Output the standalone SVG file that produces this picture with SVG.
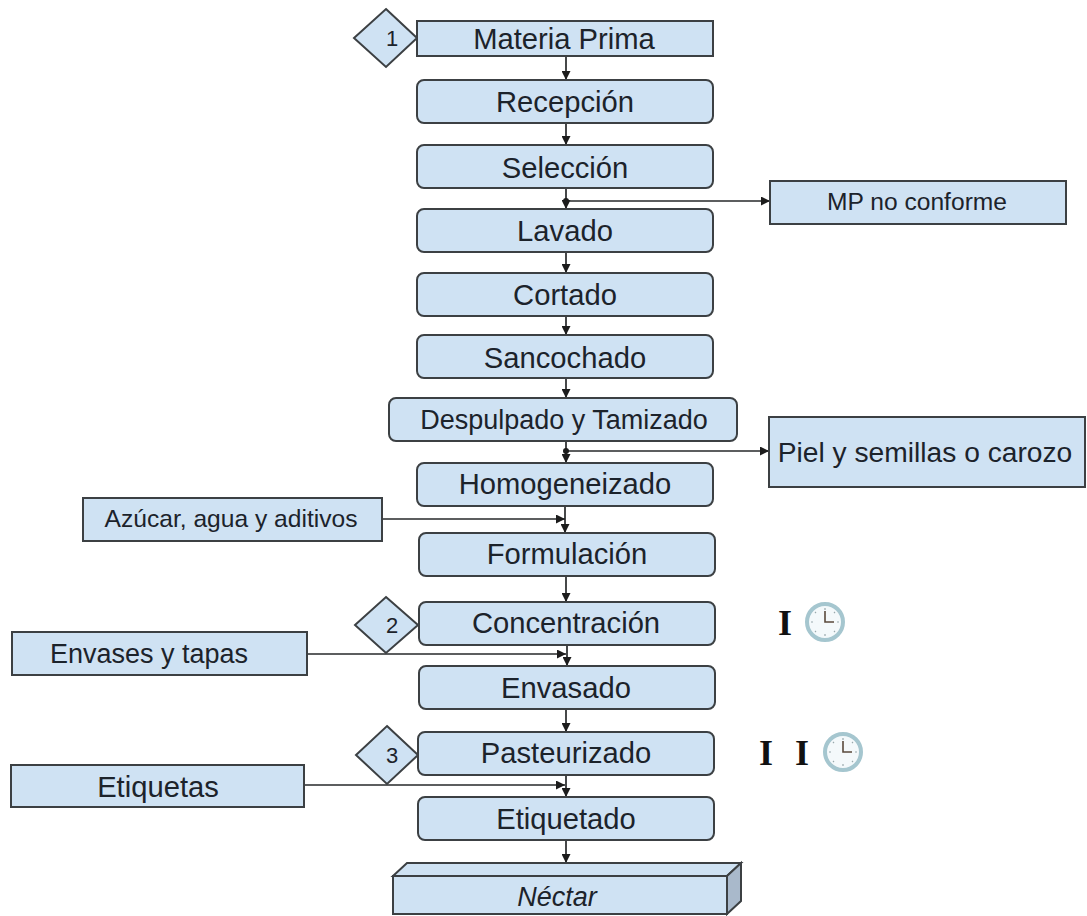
<svg xmlns="http://www.w3.org/2000/svg" width="1087" height="916" viewBox="0 0 1087 916">
<style>
.b{fill:#cfe2f3;stroke:#3c4043;stroke-width:2}
.t{font-family:"Liberation Sans",Arial,sans-serif;font-size:29.2px;fill:#1c232b;text-anchor:middle}
.s{font-size:24.6px}
.m{font-size:28.2px}
.n{font-size:27px}
.d{font-size:22px}
.c{fill:none;stroke:#26282a;stroke-width:1.7}
.i{font-family:"Liberation Serif",serif;font-weight:bold;font-size:36px;fill:#111;text-anchor:middle}
</style>
<defs>
<marker id="a" markerUnits="userSpaceOnUse" markerWidth="9" markerHeight="9" refX="9" refY="4.5" orient="auto"><path d="M0 0L9 4.5L0 9z" fill="#1c1c1c"/></marker>
<g id="clock"><circle r="18" fill="#f4f9fb" stroke="#a5c6cf" stroke-width="4"/><path d="M0-14V-12M0 12V14M-14 0H-12M12 0H14M-10-10L-9-9M10-10L9-9M-10 10L-9 9M10 10L9 9" stroke="#9aa9ad" stroke-width="1.2"/><path d="M0-11V0H9" fill="none" stroke="#5a4a3c" stroke-width="1.6"/></g>
</defs>
<g id="connectors">
<path class="c" marker-end="url(#a)" d="M566 56V80"/>
<path class="c" marker-end="url(#a)" d="M566 123V145"/>
<path class="c" marker-end="url(#a)" d="M566 188V209"/>
<path class="c" marker-end="url(#a)" d="M566 201H770"/>
<circle cx="566" cy="201" r="3" fill="#1c1c1c"/>
<path class="c" marker-end="url(#a)" d="M566 252V273"/>
<path class="c" marker-end="url(#a)" d="M566 316V335"/>
<path class="c" marker-end="url(#a)" d="M566 378V398"/>
<path class="c" marker-end="url(#a)" d="M566 441V463"/>
<path class="c" marker-end="url(#a)" d="M566 451H769"/>
<circle cx="566" cy="451" r="3" fill="#1c1c1c"/>
<path class="c" marker-end="url(#a)" d="M565 506V533"/>
<path class="c" marker-end="url(#a)" d="M382 519H565"/>
<path class="c" marker-end="url(#a)" d="M566 576V602"/>
<path class="c" marker-end="url(#a)" d="M567 645V666"/>
<path class="c" marker-end="url(#a)" d="M307 654H566"/>
<path class="c" marker-end="url(#a)" d="M566 709V732"/>
<path class="c" marker-end="url(#a)" d="M566 775V797"/>
<path class="c" marker-end="url(#a)" d="M304 785H565"/>
<path class="c" marker-end="url(#a)" d="M566 840V863"/>
</g>
<g id="d1"><path class="b" d="M386 9L417 38L386 67L354 38z"/><text class="t d" x="392" y="46">1</text></g>
<g id="d2"><path class="b" d="M386 597L418 625L386 653L355 625z"/><text class="t d" x="392" y="633">2</text></g>
<g id="d3"><path class="b" d="M387 726L418 755L387 784L356 755z"/><text class="t d" x="392" y="763">3</text></g>
<g id="n1"><rect class="b" x="417" y="21" width="296" height="35"/><text class="t" x="564" y="49">Materia Prima</text></g>
<g id="n2"><rect class="b" x="417" y="80" width="296" height="43" rx="7"/><text class="t" x="565" y="112">Recepción</text></g>
<g id="n3"><rect class="b" x="417" y="145" width="296" height="43" rx="7"/><text class="t" x="565" y="178">Selección</text></g>
<g id="n4"><rect class="b" x="417" y="209" width="296" height="43" rx="7"/><text class="t" x="565" y="241">Lavado</text></g>
<g id="n5"><rect class="b" x="417" y="273" width="296" height="43" rx="7"/><text class="t" x="565" y="305">Cortado</text></g>
<g id="n6"><rect class="b" x="417" y="335" width="296" height="43" rx="7"/><text class="t" x="565" y="368">Sancochado</text></g>
<g id="n7"><rect class="b" x="389" y="398" width="348" height="43" rx="7"/><text class="t n" x="564" y="429">Despulpado y Tamizado</text></g>
<g id="n8"><rect class="b" x="417" y="463" width="296" height="43" rx="7"/><text class="t" x="565" y="494">Homogeneizado</text></g>
<g id="n9"><rect class="b" x="419" y="533" width="296" height="43" rx="7"/><text class="t" x="567" y="564">Formulación</text></g>
<g id="n10"><rect class="b" x="419" y="602" width="296" height="43" rx="7"/><text class="t" x="566" y="633">Concentración</text></g>
<g id="n11"><rect class="b" x="419" y="666" width="296" height="43" rx="7"/><text class="t" x="566" y="698">Envasado</text></g>
<g id="n12"><rect class="b" x="418" y="732" width="296" height="43" rx="7"/><text class="t" x="566" y="763">Pasteurizado</text></g>
<g id="n13"><rect class="b" x="418" y="797" width="296" height="43" rx="7"/><text class="t" x="566" y="829">Etiquetado</text></g>
<g id="n14"><path class="b" d="M393 876L407 863H741L727 876z"/><path d="M727 876L741 863V901L727 914z" fill="#a9b9cb" stroke="#3c4043" stroke-width="2"/><rect class="b" x="393" y="876" width="334" height="38"/><text class="t" x="557" y="906" font-style="italic" style="font-size:27px">Néctar</text></g>
<g id="s1"><rect class="b" x="770" y="181" width="296" height="43"/><text class="t s" x="917" y="210">MP no conforme</text></g>
<g id="s2"><rect class="b" x="769" y="417" width="316" height="70"/><text class="t m" x="925" y="462">Piel y semillas o carozo</text></g>
<g id="s3"><rect class="b" x="83" y="498" width="299" height="43"/><text class="t s" x="231" y="527">Azúcar, agua y aditivos</text></g>
<g id="s4"><rect class="b" x="12" y="632" width="295" height="43"/><text class="t" style="font-size:27px" x="149" y="663">Envases y tapas</text></g>
<g id="s5"><rect class="b" x="11" y="765" width="293" height="42"/><text class="t" x="158" y="797">Etiquetas</text></g>
<g id="icon1"><text class="i" x="785" y="635">I</text><use href="#clock" x="825" y="622"/></g>
<g id="icon2"><text class="i" x="766" y="765">I</text><text class="i" x="802" y="765">I</text><use href="#clock" x="843" y="752"/></g>
</svg>
